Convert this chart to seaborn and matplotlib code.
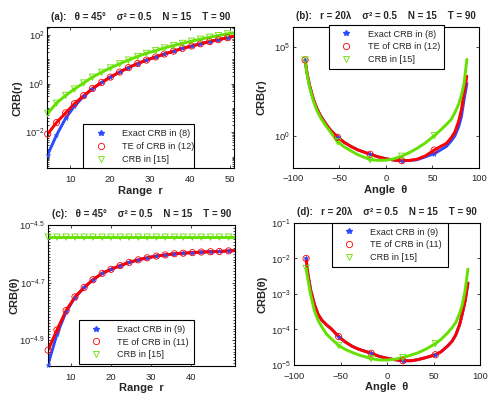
import numpy as np
import pandas as pd
import seaborn as sns
import matplotlib.pyplot as plt
from matplotlib.lines import Line2D
from matplotlib.ticker import FixedLocator, FixedFormatter, LogLocator, NullLocator, NullFormatter

# ---- range sweep, panels (a) and (c) ----
range_r = [4.4, 6.6, 8.9, 11.1, 13.4, 15.6, 17.9, 20.1, 22.4, 24.6, 26.9,
           29.1, 31.4, 33.6, 35.9, 38.1, 40.4, 42.6, 44.9, 47.1, 49.4, 51.0]
range_marks = list(range(21))

# log10 CRB(r) vs range
a_exact = [-2.92, -2.12, -1.42, -0.92, -0.52, -0.21, 0.05, 0.27, 0.48, 0.66, 0.83,
           0.97, 1.10, 1.22, 1.34, 1.45, 1.55, 1.64, 1.73, 1.81, 1.89, 1.95]
a_te = [-2.07, -1.60, -1.20, -0.82, -0.49, -0.20, 0.05, 0.27, 0.48, 0.66, 0.83,
        0.97, 1.10, 1.22, 1.34, 1.45, 1.55, 1.64, 1.73, 1.81, 1.89, 1.95]
a_ref = [-1.22, -0.80, -0.48, -0.22, 0.03, 0.27, 0.47, 0.65, 0.82, 0.97, 1.12,
         1.25, 1.36, 1.47, 1.57, 1.66, 1.75, 1.83, 1.91, 1.98, 2.05, 2.09]

# log10 CRB(theta) vs range
c_exact = [-4.985, -4.880, -4.802, -4.752, -4.717, -4.690, -4.668, -4.654, -4.641, -4.630, -4.621,
           -4.614, -4.608, -4.604, -4.600, -4.598, -4.596, -4.594, -4.593, -4.592, -4.590, -4.589]
c_te = [-4.935, -4.865, -4.797, -4.750, -4.717, -4.690, -4.668, -4.654, -4.641, -4.630, -4.621,
        -4.614, -4.608, -4.604, -4.600, -4.598, -4.596, -4.594, -4.593, -4.592, -4.590, -4.589]
c_ref = [-4.542] * 22

# ---- angle sweep, panels (b) and (d) ----
angle = [-87, -85, -82, -78, -74, -70, -65, -60, -52, -45, -37, -30, -17, -8, 0,
         8, 17, 26, 33, 42, 52, 58, 65, 70, 74, 78, 81, 84, 87]
angle_marks = [0, 8, 12, 16, 20]

b_exact = [4.26, 3.55, 2.80, 2.05, 1.50, 1.10, 0.70, 0.35, -0.07, -0.35, -0.60, -0.78, -1.02, -1.17, -1.27,
           -1.34, -1.38, -1.36, -1.33, -1.17, -0.98, -0.80, -0.58, -0.28, 0.00, 0.50, 1.05, 2.05, 2.95]
b_te = [4.26, 3.55, 2.80, 2.05, 1.50, 1.10, 0.70, 0.35, -0.07, -0.35, -0.60, -0.78, -1.02, -1.17, -1.27,
        -1.34, -1.38, -1.36, -1.30, -1.12, -0.78, -0.60, -0.41, -0.10, 0.22, 0.80, 1.45, 2.45, 3.35]
b_ref = [4.26, 3.50, 2.70, 1.95, 1.40, 1.00, 0.60, 0.25, -0.32, -0.60, -0.85, -1.05, -1.32, -1.36, -1.35,
         -1.28, -1.13, -0.90, -0.70, -0.40, 0.02, 0.30, 0.65, 0.92, 1.30, 1.76, 2.25, 2.95, 4.29]

d_exact = [-2.00, -2.45, -2.90, -3.30, -3.58, -3.74, -3.87, -3.98, -4.20, -4.35, -4.48, -4.56, -4.67, -4.76, -4.81,
           -4.85, -4.88, -4.88, -4.85, -4.79, -4.71, -4.63, -4.47, -4.33, -4.15, -3.87, -3.55, -3.20, -2.69]
d_te = [-2.00, -2.45, -2.90, -3.30, -3.58, -3.74, -3.87, -3.98, -4.20, -4.35, -4.48, -4.56, -4.67, -4.76, -4.81,
        -4.85, -4.88, -4.88, -4.85, -4.79, -4.71, -4.63, -4.47, -4.33, -4.15, -3.87, -3.55, -3.20, -2.69]
d_ref = [-2.28, -2.60, -3.03, -3.48, -3.75, -3.93, -4.13, -4.26, -4.45, -4.56, -4.65, -4.72, -4.82, -4.86, -4.86,
         -4.84, -4.79, -4.72, -4.66, -4.55, -4.40, -4.28, -4.10, -3.95, -3.80, -3.55, -3.30, -2.90, -2.30]

BLUE, RED, GREEN = "#2a4bff", "#ff0000", "#66e000"

sns.set_style("ticks")
plt.rcParams["font.family"] = ["Liberation Sans", "DejaVu Sans"]
plt.rcParams["mathtext.default"] = "regular"
plt.rcParams["axes.linewidth"] = 0.8

fig = plt.figure(figsize=(4.91, 3.96), dpi=100)
ax_a = fig.add_axes([0.0963, 0.575, 0.3803, 0.3561])
ax_b = fig.add_axes([0.5967, 0.577, 0.3788, 0.3548])
ax_c = fig.add_axes([0.0971, 0.0758, 0.3815, 0.3560])
ax_d = fig.add_axes([0.5988, 0.0783, 0.3788, 0.3586])


def draw_panel(ax, x, exact, te, ref, marks):
    x = np.asarray(x, dtype=float)
    df = pd.DataFrame({"x": x,
                       "exact": 10.0 ** np.asarray(exact),
                       "te": 10.0 ** np.asarray(te),
                       "ref": 10.0 ** np.asarray(ref)})
    for col, c in [("exact", BLUE), ("te", RED), ("ref", GREEN)]:
        sns.lineplot(data=df, x="x", y=col, ax=ax, color=c, lw=2.1,
                     estimator=None, sort=False, legend=False)
    m = df.iloc[marks]
    sns.scatterplot(data=m, x="x", y="exact", ax=ax, marker="*", s=13,
                    color=BLUE, edgecolor=BLUE, linewidth=0.3, clip_on=False, zorder=5)
    sns.scatterplot(data=m, x="x", y="te", ax=ax, marker="o", s=20,
                    facecolor="none", edgecolor=RED, linewidth=0.6, clip_on=False, zorder=5)
    sns.scatterplot(data=m, x="x", y="ref", ax=ax, marker="v", s=20,
                    facecolor="none", edgecolor=GREEN, linewidth=0.6, clip_on=False, zorder=5)
    ax.set_yscale("log")


def style_panel(ax, title, xlabel, ylabel, labels, bbox, loc, ylab_x):
    ax.set_title(title, fontsize=7, fontweight="bold", pad=5.5)
    ax.set_xlabel(xlabel, fontsize=8, fontweight="bold", labelpad=1)
    ax.set_ylabel(ylabel, fontsize=8, fontweight="bold")
    ax.yaxis.set_label_coords(ylab_x, 0.5)
    ax.tick_params(which="both", direction="in", top=True, right=True,
                   labelsize=6.8, width=0.6)
    ax.tick_params(axis="x", pad=5)
    ax.tick_params(axis="y", pad=2)
    ax.tick_params(which="major", length=2.5)
    ax.tick_params(which="minor", length=1.5)
    for s in ax.spines.values():
        s.set_color("black")
    handles = [
        Line2D([], [], ls="none", marker="*", ms=4, color=BLUE),
        Line2D([], [], ls="none", marker="o", ms=4.5, mfc="none", mec=RED, mew=0.6),
        Line2D([], [], ls="none", marker="v", ms=4.5, mfc="none", mec=GREEN, mew=0.6),
    ]
    leg = ax.legend(handles, labels, loc=loc, bbox_to_anchor=bbox, mode="expand",
                    borderaxespad=0, fontsize=6.6, frameon=True, fancybox=False,
                    framealpha=1, edgecolor="black", borderpad=0.5,
                    handlelength=2.8, handletextpad=0.9, labelspacing=0.42)
    leg.get_frame().set_linewidth(0.8)
    leg.set_zorder(10)


lab_r = ["Exact CRB in (8)", "TE of CRB in (12)", "CRB in [15]"]
lab_t = ["Exact CRB in (9)", "TE of CRB in (11)", "CRB in [15]"]

# (a)
draw_panel(ax_a, range_r, a_exact, a_te, a_ref, range_marks)
ax_a.set_xlim(4.3, 51)
ax_a.set_ylim(10 ** -3.48, 10 ** 2.32)
ax_a.xaxis.set_major_locator(FixedLocator([10, 20, 30, 40, 50]))
ax_a.yaxis.set_major_locator(FixedLocator([1e-2, 1e0, 1e2]))
ax_a.yaxis.set_minor_locator(LogLocator(base=10, subs=np.arange(1, 10), numticks=20))
ax_a.yaxis.set_minor_formatter(NullFormatter())
style_panel(ax_a, "(a):   θ = 45°    σ² = 0.5    N = 15    T = 90",
            "Range  r", "CRB(r)", lab_r, (0.193, 0.0, 0.595, 0.32), "lower left", -0.135)

# (b)
draw_panel(ax_b, angle, b_exact, b_te, b_ref, angle_marks)
ax_b.set_xlim(-100, 100)
ax_b.set_ylim(10 ** -1.76, 10 ** 6.1)
ax_b.xaxis.set_major_locator(FixedLocator([-100, -50, 0, 50, 100]))
ax_b.yaxis.set_major_locator(FixedLocator([1e0, 1e5]))
ax_b.yaxis.set_minor_locator(NullLocator())
style_panel(ax_b, "(b):   r = 20λ    σ² = 0.5    N = 15    T = 90",
            "Angle  θ", "CRB(r)", lab_r, (0.194, 0.70, 0.618, 0.314), "upper left", -0.14)

# (c)
draw_panel(ax_c, range_r, c_exact, c_te, c_ref, range_marks)
ax_c.set_xlim(4.3, 51)
ax_c.set_ylim(10 ** -4.99, 10 ** -4.5)
ax_c.xaxis.set_major_locator(FixedLocator([10, 20, 30, 40]))
ax_c.yaxis.set_major_locator(FixedLocator([10 ** -4.9, 10 ** -4.7, 10 ** -4.5]))
ax_c.yaxis.set_major_formatter(FixedFormatter([r"$10^{-4.9}$", r"$10^{-4.7}$", r"$10^{-4.5}$"]))
ax_c.yaxis.set_minor_locator(FixedLocator(10 ** np.arange(-4.99, -4.5, 0.01)))
ax_c.yaxis.set_minor_formatter(NullFormatter())
style_panel(ax_c, "(c):   θ = 45°    σ² = 0.5    N = 15    T = 90",
            "Range  r", "CRB(θ)", lab_t, (0.167, 0.014, 0.615, 0.32), "lower left", -0.15)

# (d)
draw_panel(ax_d, angle, d_exact, d_te, d_ref, angle_marks)
ax_d.set_xlim(-100, 100)
ax_d.set_ylim(1e-5, 1e-1)
ax_d.xaxis.set_major_locator(FixedLocator([-100, -50, 0, 50, 100]))
ax_d.yaxis.set_major_locator(FixedLocator([1e-5, 1e-4, 1e-3, 1e-2, 1e-1]))
ax_d.yaxis.set_minor_locator(NullLocator())
style_panel(ax_d, "(d):   r = 20λ    σ² = 0.5    N = 15    T = 90",
            "Angle  θ", "CRB(θ)", lab_t, (0.204, 0.69, 0.624, 0.31), "upper left", -0.14)

fig.savefig("out.png", dpi=100)
plt.close("all")
